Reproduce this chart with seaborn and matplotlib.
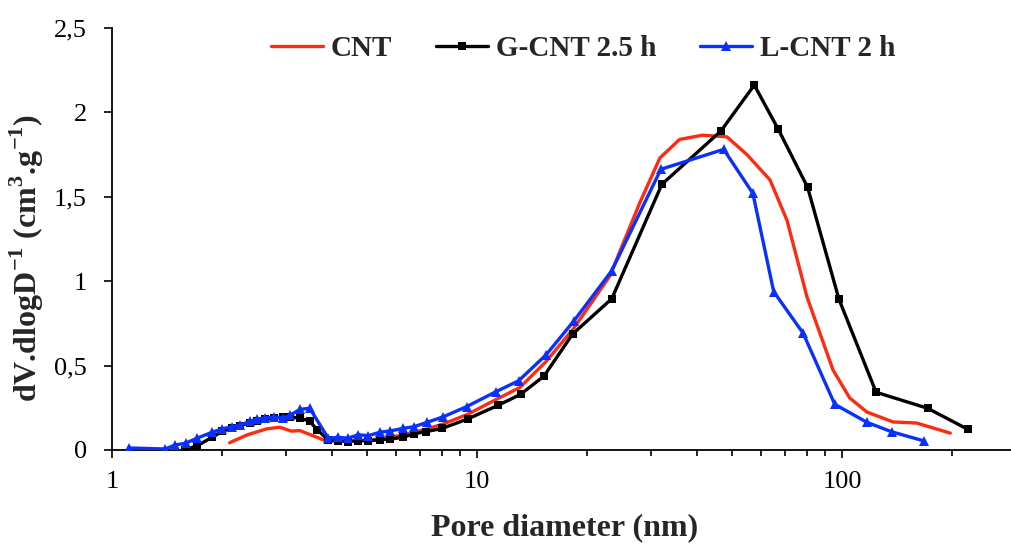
import numpy as np
import pandas as pd
import seaborn as sns
import matplotlib
matplotlib.use("Agg")
import matplotlib.pyplot as plt
from matplotlib.ticker import LogLocator, FixedLocator, FuncFormatter

# ---- data ----
cnt_x = [2.10, 2.35, 2.65, 2.88, 3.10, 3.27, 3.55, 3.79, 4.2, 4.7, 5.4, 6.3, 7.3, 8.1,
         9.4, 11.3, 13.1, 15.4, 18.4, 20.4, 23.1, 28.0, 31.7, 35.9, 41.5, 48.4, 54.9,
         63.5, 70.7, 80.2, 94.5, 105, 117, 138, 160, 198]
cnt_y = [0.043, 0.09, 0.125, 0.135, 0.112, 0.115, 0.085, 0.06, 0.05, 0.055, 0.065, 0.09,
         0.125, 0.155, 0.21, 0.30, 0.37, 0.52, 0.72, 0.86, 1.03, 1.47, 1.73, 1.84, 1.865,
         1.855, 1.75, 1.60, 1.36, 0.906, 0.474, 0.308, 0.225, 0.166, 0.16, 0.10]

gcnt_x = [1.58, 1.71, 1.88, 2.0, 2.13, 2.24, 2.39, 2.49, 2.63, 2.77, 2.95, 3.07, 3.27,
          3.48, 3.65, 3.91, 4.17, 4.43, 4.73, 5.04, 5.42, 5.78, 6.28, 6.72, 7.23, 8.03,
          9.43, 11.43, 13.17, 15.26, 18.28, 23.4, 32.1, 46.6, 57.5, 66.9, 80.5, 98.1,
          124, 171.7, 220.9]
gcnt_y = [0.0, 0.025, 0.075, 0.11, 0.13, 0.145, 0.16, 0.172, 0.182, 0.19, 0.195, 0.195,
          0.19, 0.17, 0.12, 0.06, 0.055, 0.05, 0.055, 0.055, 0.06, 0.065, 0.075, 0.097,
          0.108, 0.128, 0.184, 0.265, 0.33, 0.438, 0.687, 0.896, 1.574, 1.89, 2.162,
          1.90, 1.556, 0.893, 0.342, 0.247, 0.123]

lcnt_x = [1.11, 1.40, 1.49, 1.59, 1.71, 1.88, 2.0, 2.13, 2.24, 2.39, 2.49, 2.63, 2.77,
          2.95, 3.07, 3.27, 3.48, 3.91, 4.17, 4.43, 4.73, 5.04, 5.42, 5.78, 6.28, 6.72,
          7.3, 8.09, 9.37, 11.26, 13.0, 15.45, 18.45, 23.4, 31.9, 47.4, 57.0, 65.0, 78.3,
          95.5, 117, 136.8, 168.2]
lcnt_y = [0.012, 0.006, 0.03, 0.04, 0.07, 0.105, 0.125, 0.138, 0.148, 0.17, 0.182, 0.19,
          0.195, 0.19, 0.205, 0.24, 0.248, 0.07, 0.075, 0.07, 0.09, 0.085, 0.105, 0.113,
          0.128, 0.138, 0.164, 0.197, 0.257, 0.345, 0.41, 0.563, 0.766, 1.062, 1.663,
          1.781, 1.52, 0.938, 0.691, 0.271, 0.164, 0.108, 0.053]

y_ticks = [0, 0.5, 1, 1.5, 2, 2.5]
y_tick_labels = ["0", "0,5", "1", "1,5", "2", "2,5"]
x_tick_labels = {1: "1", 10: "10", 100: "100"}

# ---- styling ----
sns.set_theme(style="white")
plt.rcParams['font.family'] = ['Liberation Serif', 'DejaVu Serif']
plt.rcParams['mathtext.fontset'] = 'custom'
plt.rcParams['mathtext.rm'] = 'Liberation Serif'
plt.rcParams['mathtext.bf'] = 'Liberation Serif:bold'

RED = '#FF2A10'
BLUE = '#0A30FF'

fig = plt.figure(figsize=(10.11, 5.45), dpi=100)
ax = fig.add_axes([112 / 1011, 1 - 450 / 545, 1 - 112 / 1011, (450 - 28) / 545])

sns.lineplot(x=cnt_x, y=cnt_y, ax=ax, color=RED, lw=2.4, sort=False,
             label='CNT', zorder=3)
sns.lineplot(x=gcnt_x, y=gcnt_y, ax=ax, color='black', lw=2.4, sort=False,
             marker='s', markersize=6, markeredgewidth=0, label='G-CNT 2.5 h', zorder=4)
sns.lineplot(x=lcnt_x, y=lcnt_y, ax=ax, color=BLUE, lw=2.4, sort=False,
             marker='^', markersize=7.5, markeredgewidth=0, label='L-CNT 2 h', zorder=5)

ax.set_xscale('log')
ax.set_xlim(1, 10 ** ((1011 - 112) / 365))
ax.set_ylim(0, 2.5)

ax.set_yticks(y_ticks)
ax.set_yticklabels(y_tick_labels)
ax.xaxis.set_major_locator(FixedLocator([1, 10, 100]))
ax.xaxis.set_major_formatter(FuncFormatter(lambda v, p: x_tick_labels.get(int(round(v)), "")))
ax.xaxis.set_minor_locator(LogLocator(base=10, subs=np.arange(2, 10), numticks=20))
ax.xaxis.set_minor_formatter(FuncFormatter(lambda v, p: ""))

ax.tick_params(axis='y', which='major', direction='out', length=6, width=1.2,
               labelsize=19, left=True, colors='black', pad=12)
ax.tick_params(axis='x', which='major', direction='out', length=6, width=1.2,
               labelsize=19, bottom=True, colors='black', pad=9)
ax.tick_params(axis='x', which='minor', direction='out', length=4.5, width=1.2,
               bottom=True, colors='black')

for s in ['top', 'right']:
    ax.spines[s].set_visible(False)
for s in ['left', 'bottom']:
    ax.spines[s].set_color('black')
    ax.spines[s].set_linewidth(1.3)

ax.set_xlabel('Pore diameter (nm)', fontsize=23, fontweight='bold')
ax.xaxis.set_label_coords((565 - 112) / (1011 - 112), -(513 - 450) / (450 - 28))
ax.set_ylabel(r'dV.dlogD$^{\mathbf{-1}}$ (cm$^{\mathbf{3}}$.g$^{\mathbf{-1}}$)',
              fontsize=23, fontweight='bold')
ax.yaxis.set_label_coords(-(112 - 46) / (1011 - 112), (450 - 258) / (450 - 28))

leg = ax.legend(loc='upper center', bbox_to_anchor=((583 - 112) / (1011 - 112), 1.045),
                ncol=3, frameon=False, handlelength=1.8, columnspacing=1.5,
                handletextpad=0.25, prop={'weight': 'bold', 'size': 21})

fig.savefig('out.png', dpi=100)
